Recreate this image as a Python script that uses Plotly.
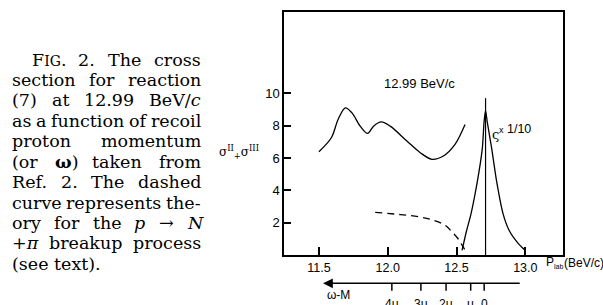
import re
import plotly.graph_objects as go

# ---------------- data ----------------
main_x = [11.50, 11.59, 11.64, 11.692, 11.74, 11.80, 11.854, 11.897, 11.953, 12.018,
          12.139, 12.236, 12.32, 12.404, 12.489, 12.562]
main_y = [6.39, 7.25, 8.40, 9.10, 8.79, 7.97, 7.52, 7.97, 8.23, 7.97,
          7.05, 6.33, 5.92, 6.12, 6.84, 8.07]

peak_x = [12.54, 12.573, 12.605, 12.652, 12.688, 12.700, 12.711, 12.724, 12.755, 12.791,
          12.838, 12.882, 12.948, 12.996]
peak_y = [0.28, 1.5, 2.53, 4.58, 6.63, 8.2, 8.94, 8.2, 6.63, 4.58,
          2.56, 1.53, 0.72, 0.31]

dash_x = [11.909, 12.09, 12.236, 12.33, 12.417, 12.467, 12.51, 12.54, 12.576]
dash_y = [2.64, 2.50, 2.35, 2.15, 1.84, 1.43, 1.02, 0.61, 0.10]

marker_x = [12.711, 12.711]
marker_y = [0.0, 9.7]

x_ticks = [11.5, 12.0, 12.5, 13.0]
x_ticklabels = ["11.5", "12.0", "12.5", "13.0"]
y_ticks = [2, 4, 6, 8, 10]
y_ticklabels = ["2", "4", "6", "8", "10"]

omega_x = [12.030, 12.241, 12.424, 12.603, 12.701]
omega_labels = ["4\u03bc", "3\u03bc", "2\u03bc", "\u03bc", "0"]

# caption: (words, justified?)
caption_lines = [
    (["F<span style='font-size:14px'>IG</span>.", "2.", "The", "cross"], True),
    (["section", "for", "reaction"], True),
    (["(7)", "at", "12.99", "BeV/<i>c</i>"], True),
    (["as", "a", "function", "of", "recoil"], True),
    (["proton", "momentum"], True),
    (["(or", "<b>\u03c9</b>)", "taken", "from"], True),
    (["Ref.", "2.", "The", "dashed"], True),
    (["curve", "represents", "the-"], True),
    (["ory", "for", "the", "<i>p</i>", "\u2192", "<i>N</i>"], True),
    (["+<i>\u03c0</i>", "breakup", "process"], True),
    (["(see", "text)."], False),
]

# ---------------- layout geometry ----------------
W_FIG, H_FIG = 603, 305
L, R, T, B = 284, 40, 10, 50
PW = W_FIG - L - R
PH = H_FIG - T - B
BOTTOM = H_FIG - B


def px(p):
    return (p - L) / PW


def py(p):
    return (BOTTOM - p) / PH


FONT = "Liberation Sans"
SERIF = "DejaVu Serif"
CAP_SIZE = 17.5

# approximate DejaVu Serif advance widths (em)
WID = {' ': .318, '(': .391, ')': .391, '+': .838, '.': .318, '/': .337, '-': .338,
       'B': .733, 'F': .689, 'G': .776, 'I': .370, 'N': .812, 'R': .729, 'T': .678, 'V': .722,
       'a': .596, 'b': .640, 'c': .560, 'd': .640, 'e': .592, 'f': .370, 'h': .644, 'i': .320,
       'k': .604, 'l': .320, 'm': .948, 'n': .644, 'o': .602, 'p': .640, 'r': .478, 's': .513,
       't': .402, 'u': .644, 'x': .564, 'y': .565, 'w': .856, 'v': .565,
       '\u03c9': .80, '\u03c0': .66, '\u2192': .838}
for d in "0123456789":
    WID[d] = .636


def text_width(html):
    w = 0.0
    m = re.findall(r"<span style='font-size:(\d+)px'>(.*?)</span>", html)
    for sz, inner in m:
        w += sum(WID.get(c, .6) for c in inner) * float(sz)
    plain = re.sub(r"<span.*?</span>", "", html)
    plain = re.sub(r"<.*?>", "", plain)
    w += sum(WID.get(c, .6) for c in plain) * CAP_SIZE
    return w


fig = go.Figure()
fig.add_trace(go.Scatter(x=main_x, y=main_y, mode="lines",
                         line=dict(color="black", width=1.3, shape="spline", smoothing=0.9)))
fig.add_trace(go.Scatter(x=peak_x, y=peak_y, mode="lines",
                         line=dict(color="black", width=1.3, shape="spline", smoothing=0.6)))
fig.add_trace(go.Scatter(x=dash_x, y=dash_y, mode="lines",
                         line=dict(color="black", width=1.3, dash="7px,5px", shape="spline")))
fig.add_trace(go.Scatter(x=marker_x, y=marker_y, mode="lines",
                         line=dict(color="black", width=1.2)))

annotations = []
shapes = []


def note(x, y, text, xref="paper", yref="paper", xanchor="center", size=12.5, family=FONT):
    annotations.append(dict(x=x, y=y, xref=xref, yref=yref, xanchor=xanchor,
                            yanchor="middle", text=text, showarrow=False, borderpad=0,
                            font=dict(family=family, size=size, color="black")))


# plot texts
note(12.23, 10.6, "12.99 BeV/c", "x", "y", size=13)
note(12.783, 7.45, "\u03c2", "x", "y", size=13, family=SERIF)
note(12.80, 7.8, "<span style='font-size:9px'>x</span> 1/10", "x", "y", xanchor="left")

# y axis title
note(px(239), py(151), "\u03c3<sup>II</sup><sub>+</sub>\u03c3<sup>III</sup>", size=12, family=SERIF)
# x axis title
note(px(545), py(263), "P<sub><span style='font-size:7px'>lab</span></sub>", xanchor="left", size=12)
note(px(563), py(263), "(BeV/c)", xanchor="left", size=12)

# omega - M axis (arrow)
annotations.append(dict(x=11.53, y=py(283.5), xref="x", yref="paper",
                        ax=12.97, ay=0, axref="x", ayref="pixel",
                        text="", showarrow=True, arrowhead=2, arrowsize=1.3,
                        arrowwidth=1.5, arrowcolor="black"))
note(11.641, py(295), "\u03c9-M", "x", "paper", size=12)
for xv, lab in zip(omega_x, omega_labels):
    shapes.append(dict(type="line", xref="x", yref="paper", x0=xv, x1=xv,
                       y0=py(283.5), y1=py(291), line=dict(color="black", width=1.5)))
    note(xv, py(304.5), lab, "x", "paper", size=12)

# caption (justified between x=11 and x=200)
base0 = 58.0
LEFT, RIGHT, INDENT = 11, 200, 31
for i, (words, justify) in enumerate(caption_lines):
    yc = base0 + 20.6 * i
    start = INDENT if i == 0 else LEFT
    widths = [text_width(w) for w in words]
    if justify and len(words) > 1:
        gap = (RIGHT - start - sum(widths)) / (len(words) - 1)
    else:
        gap = WID[' '] * CAP_SIZE
    xcur = start
    for w, wd in zip(words, widths):
        note(px(xcur), py(yc), w, xanchor="left", size=CAP_SIZE, family=SERIF)
        xcur += wd + gap

fig.update_layout(
    width=W_FIG, height=H_FIG, autosize=False,
    margin=dict(l=L, r=R, t=T, b=B, pad=0),
    paper_bgcolor="white", plot_bgcolor="white",
    showlegend=False,
    annotations=annotations, shapes=shapes,
    font=dict(family=FONT, size=12.5, color="black"),
)
fig.update_xaxes(range=[11.246, 13.274], showgrid=False, zeroline=False,
                 showline=True, mirror=True, linecolor="black", linewidth=1.5,
                 ticks="inside", ticklen=8, tickwidth=1.5, tickcolor="black",
                 tickvals=x_ticks, ticktext=x_ticklabels,
                 tickfont=dict(family=FONT, size=12.5, color="black"))
fig.update_yaxes(range=[0, 15.03], showgrid=False, zeroline=False,
                 showline=True, mirror=True, linecolor="black", linewidth=1.5,
                 ticks="inside", ticklen=7, tickwidth=1.5, tickcolor="black",
                 tickvals=y_ticks, ticktext=y_ticklabels,
                 tickfont=dict(family=FONT, size=13, color="black"))

fig.write_html("out.html", config={"displayModeBar": False},
               post_script="document.body.style.margin='0';document.body.style.overflow='hidden';")
